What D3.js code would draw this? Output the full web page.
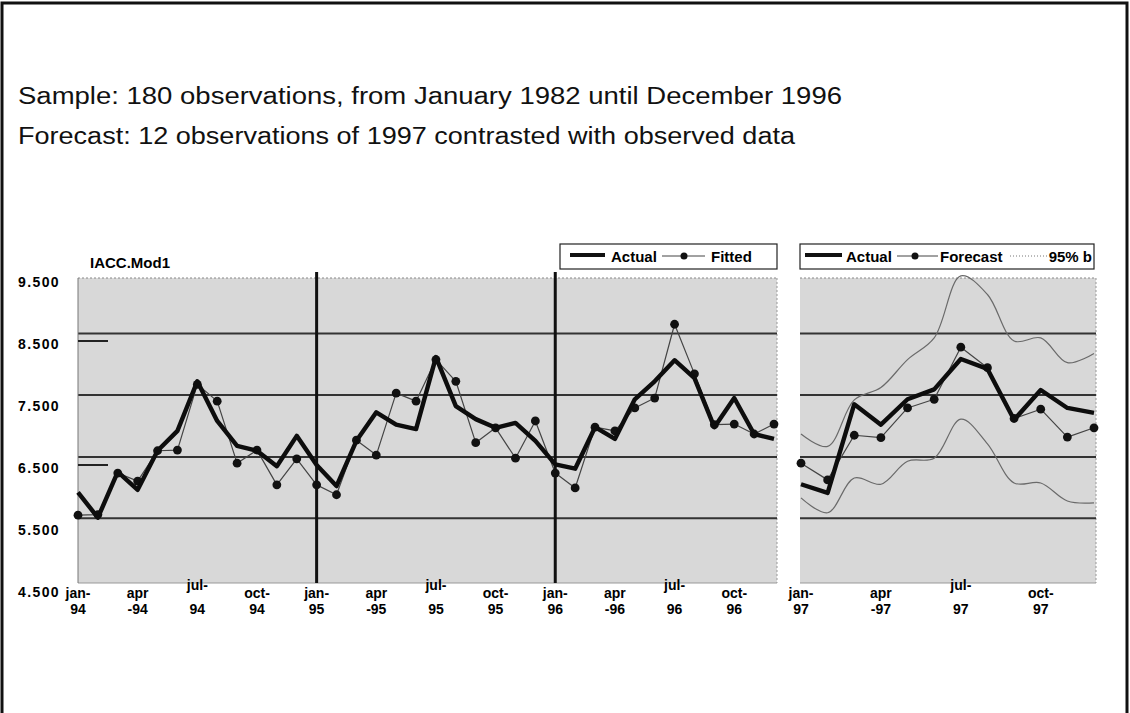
<!DOCTYPE html>
<html>
<head>
<meta charset="utf-8">
<script src="https://cdn.jsdelivr.net/npm/d3@7"></script>
<style>
  html, body { margin: 0; padding: 0; background: #fff; }
  svg { display: block; }
  text { font-family: "Liberation Sans", Arial, sans-serif; }
</style>
</head>
<body>
<div id="chart"></div>
<script>
// Sample period jan-94 .. dec-96 (monthly)
const actualIn = [6.06, 5.65, 6.39, 6.10, 6.73, 7.05, 7.85, 7.21, 6.81, 6.73, 6.48, 6.97,
                  6.50, 6.16, 6.89, 7.35, 7.15, 7.08, 8.24, 7.45, 7.24, 7.10, 7.18, 6.89,
                  6.51, 6.44, 7.11, 6.92, 7.56, 7.85, 8.19, 7.90, 7.11, 7.58, 7.00, 6.92];
const fitted   = [5.69, 5.70, 6.37, 6.24, 6.73, 6.74, 7.80, 7.53, 6.53, 6.74, 6.18, 6.60,
                  6.18, 6.02, 6.90, 6.66, 7.66, 7.53, 8.20, 7.85, 6.86, 7.10, 6.61, 7.21,
                  6.37, 6.13, 7.11, 7.05, 7.42, 7.58, 8.77, 7.97, 7.15, 7.16, 7.00, 7.16];
// Forecast period jan-97 .. dec-97
const actualOut = [6.19, 6.05, 7.48, 7.15, 7.56, 7.72, 8.21, 8.05, 7.23, 7.71, 7.42, 7.34];
const forecast  = [6.53, 6.26, 6.98, 6.94, 7.42, 7.56, 8.40, 8.07, 7.25, 7.40, 6.95, 7.10];
const upperBand = [7.00, 6.80, 7.55, 7.75, 8.20, 8.55, 9.55, 9.25, 8.50, 8.55, 8.15, 8.30];
const lowerBand = [5.97, 5.73, 6.29, 6.19, 6.56, 6.61, 7.24, 6.84, 6.21, 6.21, 5.92, 5.89];

const leftTicks  = [[0, "jan-", "94"], [3, "apr", "-94"], [6, "jul-", "94"], [9, "oct-", "94"],
                    [12, "jan-", "95"], [15, "apr", "-95"], [18, "jul-", "95"], [21, "oct-", "95"],
                    [24, "jan-", "96"], [27, "apr", "-96"], [30, "jul-", "96"], [33, "oct-", "96"]];
const rightTicks = [[0, "jan-", "97"], [3, "apr", "-97"], [6, "jul-", "97"], [9, "oct-", "97"]];
const yTicks = [9.5, 8.5, 7.5, 6.5, 5.5, 4.5];
const gridValues = [8.62, 7.63, 6.63, 5.64];
const yearBreaks = [12, 24];

const W = 1130, H = 713;
const svg = d3.select("#chart").append("svg").attr("width", W).attr("height", H);

// frame
svg.append("rect").attr("x", 2).attr("y", 3).attr("width", 1125).attr("height", 730)
  .attr("fill", "#fff").attr("stroke", "#111").attr("stroke-width", 3);

svg.append("text").attr("x", 18).attr("y", 104).attr("font-size", 23).attr("fill", "#111")
  .attr("textLength", 824).attr("lengthAdjust", "spacingAndGlyphs")
  .text("Sample: 180 observations, from January 1982 until December 1996");
svg.append("text").attr("x", 18).attr("y", 144).attr("font-size", 23).attr("fill", "#111")
  .attr("textLength", 777).attr("lengthAdjust", "spacingAndGlyphs")
  .text("Forecast: 12 observations of 1997 contrasted with observed data");

const y = d3.scaleLinear().domain([4.5, 9.5]).range([589, 279]);
const plotTop = 278, plotBottom = 583;

const xL = d3.scaleLinear().domain([0, 35]).range([78, 774]);
const xR = d3.scaleLinear().domain([0, 11]).range([801, 1094]);

function panel(x0, x1) {
  svg.append("rect").attr("x", x0).attr("y", plotTop).attr("width", x1 - x0)
    .attr("height", plotBottom - plotTop).attr("fill", "#d8d8d8");
  svg.append("line").attr("x1", x0).attr("x2", x1).attr("y1", plotTop).attr("y2", plotTop)
    .attr("stroke", "#888").attr("stroke-dasharray", "2,2");
  svg.append("line").attr("x1", x1).attr("x2", x1).attr("y1", plotTop).attr("y2", plotBottom)
    .attr("stroke", "#999").attr("stroke-dasharray", "2,2");
  svg.append("line").attr("x1", x0).attr("x2", x1).attr("y1", plotBottom).attr("y2", plotBottom)
    .attr("stroke", "#999");
  svg.selectAll(null).data(gridValues).join("line")
    .attr("x1", x0).attr("x2", x1)
    .attr("y1", d => y(d)).attr("y2", d => y(d))
    .attr("stroke", "#333").attr("stroke-width", 2);
}
panel(78, 777);
panel(800, 1096);

// left axis line and labels
svg.append("line").attr("x1", 78).attr("x2", 78).attr("y1", plotTop).attr("y2", plotBottom)
  .attr("stroke", "#777");
svg.selectAll(".ylab").data(yTicks).join("text")
  .attr("class", "ylab")
  .attr("x", 18).attr("y", d => y(d) + 8)
  .attr("font-size", 14).attr("font-weight", "bold").attr("letter-spacing", 1.4)
  .text(d => d3.format(".3f")(d));
svg.selectAll(".ytk").data([8.5, 6.5]).join("line")
  .attr("x1", 78).attr("x2", 108)
  .attr("y1", d => y(d)).attr("y2", d => y(d))
  .attr("stroke", "#222").attr("stroke-width", 2);
svg.append("text").attr("x", 90).attr("y", 268).attr("font-size", 15).attr("font-weight", "bold")
  .text("IACC.Mod1");

// year separators
svg.selectAll(".yb").data(yearBreaks).join("line")
  .attr("x1", d => xL(d)).attr("x2", d => xL(d))
  .attr("y1", 272).attr("y2", plotBottom)
  .attr("stroke", "#111").attr("stroke-width", 3);

// x tick labels
function xLabels(ticks, x) {
  const g = svg.append("g");
  ticks.forEach(([i, a, b]) => {
    const up = a === "jul-" ? -8 : 0;
    g.append("text").attr("x", x(i)).attr("y", 598 + up).attr("text-anchor", "middle")
      .attr("font-size", 14).attr("font-weight", "bold").text(a);
    g.append("text").attr("x", x(i)).attr("y", 614).attr("text-anchor", "middle")
      .attr("font-size", 14).attr("font-weight", "bold").text(b);
  });
}
xLabels(leftTicks, xL);
xLabels(rightTicks, xR);

function series(data, x, opts) {
  const line = d3.line().x((d, i) => x(i)).y(d => y(d));
  if (opts.curve) line.curve(opts.curve);
  svg.append("path").datum(data).attr("d", line).attr("fill", "none")
    .attr("stroke", opts.color).attr("stroke-width", opts.width)
    .attr("stroke-linejoin", "round");
  if (opts.dots) {
    svg.append("g").selectAll("circle").data(data).join("circle")
      .attr("cx", (d, i) => x(i)).attr("cy", d => y(d)).attr("r", 4.4).attr("fill", "#111");
  }
}
// bands first
series(upperBand, xR, { color: "#6a6a6a", width: 1.2, curve: d3.curveCatmullRom });
series(lowerBand, xR, { color: "#6a6a6a", width: 1.2, curve: d3.curveCatmullRom });
series(fitted, xL, { color: "#444", width: 1.2, dots: true });
series(actualIn, xL, { color: "#0d0d0d", width: 4.4 });
series(forecast, xR, { color: "#444", width: 1.2, dots: true });
series(actualOut, xR, { color: "#0d0d0d", width: 4.4 });

// legends
function legendBox(x0, x1) {
  svg.append("rect").attr("x", x0).attr("y", 244).attr("width", x1 - x0).attr("height", 25)
    .attr("fill", "#fff").attr("stroke", "#222").attr("stroke-width", 1.2);
}
function lgText(x, t) {
  svg.append("text").attr("x", x).attr("y", 262).attr("font-size", 15).attr("font-weight", "bold").text(t);
}
legendBox(560, 777);
svg.append("line").attr("x1", 570).attr("x2", 605).attr("y1", 255).attr("y2", 255)
  .attr("stroke", "#111").attr("stroke-width", 4);
lgText(611, "Actual");
svg.append("line").attr("x1", 662).attr("x2", 705).attr("y1", 256).attr("y2", 256)
  .attr("stroke", "#444").attr("stroke-width", 1);
svg.append("circle").attr("cx", 684).attr("cy", 256).attr("r", 3.5).attr("fill", "#111");
lgText(711, "Fitted");

legendBox(800, 1094);
svg.append("line").attr("x1", 805).attr("x2", 842).attr("y1", 255).attr("y2", 255)
  .attr("stroke", "#111").attr("stroke-width", 4);
lgText(846, "Actual");
svg.append("line").attr("x1", 897).attr("x2", 938).attr("y1", 256).attr("y2", 256)
  .attr("stroke", "#444").attr("stroke-width", 1);
svg.append("circle").attr("cx", 915).attr("cy", 256).attr("r", 3.5).attr("fill", "#111");
lgText(940, "Forecast");
svg.append("line").attr("x1", 1010).attr("x2", 1048).attr("y1", 256).attr("y2", 256)
  .attr("stroke", "#777").attr("stroke-width", 1).attr("stroke-dasharray", "1,2");
svg.append("g").append("text").attr("x", 1092).attr("y", 262).attr("text-anchor", "end")
  .attr("font-size", 15).attr("font-weight", "bold").text("95% b");
</script>
</body>
</html>
